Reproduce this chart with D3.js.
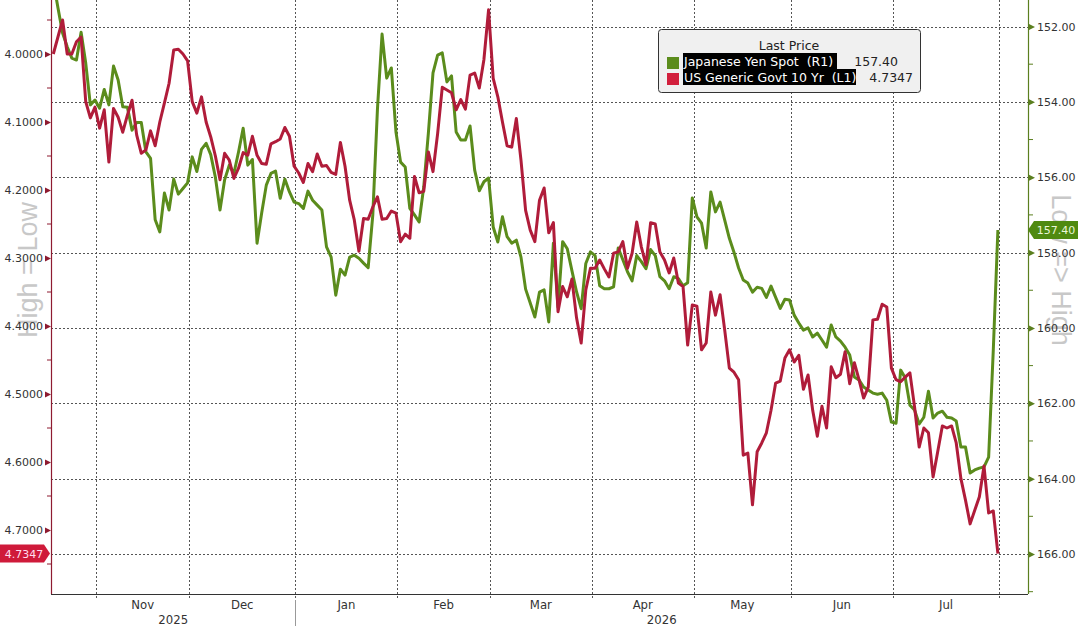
<!DOCTYPE html>
<html>
<head>
<meta charset="utf-8">
<script src="https://cdn.jsdelivr.net/npm/d3@7"></script>
<style>
  body { margin: 0; background: #fff; }
  svg { display: block; }
</style>
</head>
<body>
<div id="chart"></div>
<script>
//==============================
// DATA (one value per trading day, starting Mon 20 Oct 2025)
//==============================
const startDay = new Date(2025, 9, 20);
const endDay = new Date(2026, 7, 31);

// Japanese Yen Spot (R1), inverted right axis
const yenSpot = [
  150.8, 151.5, 152.17, 152.54, 152.84, 152.89, 152.15, 152.97, 154.08, 153.95,
  154.17, 153.67, 154.08, 153.05, 153.42, 154.13, 154.14, 154.75, 154.55, 154.55,
  155.33, 155.5, 157.13, 157.45, 156.42, 156.87, 156.05, 156.45, 156.3, 156.15,
  155.46, 155.85, 155.26, 155.1, 155.4, 156.0, 156.87, 156.07, 155.68, 155.9,
  155.33, 154.7, 155.68, 155.53, 157.75, 156.95, 156.21, 155.9, 155.84, 156.56,
  156.05, 156.39, 156.66, 156.7, 156.83, 156.37, 156.61, 156.74, 156.87, 157.85,
  158.12, 159.13, 158.44, 158.6, 158.12, 158.07, 158.15, 158.28, 158.4, 157.0,
  154.2, 152.2, 153.37, 153.1, 154.8, 155.6, 155.73, 156.83, 157.0, 157.19,
  156.26, 154.83, 153.23, 152.76, 152.7, 153.47, 153.31, 154.8, 155.01, 155.01,
  154.64, 155.81, 156.36, 156.12, 156.02, 157.32, 157.72, 157.05, 157.58, 157.75,
  157.67, 158.12, 158.97, 159.34, 159.71, 159.05, 158.99, 159.84, 157.75, 159.45,
  157.71, 157.9, 158.48, 159.04, 159.49, 158.29, 157.98, 158.08, 158.88, 158.96,
  158.96, 158.91, 157.88, 158.19, 158.51, 158.75, 158.08, 158.24, 158.43, 157.92,
  158.08, 158.64, 158.75, 158.96, 158.64, 158.69, 158.88, 158.8, 156.55, 157.05,
  157.22, 157.88, 156.39, 156.92, 156.66, 157.14, 157.62, 157.99, 158.41, 158.73,
  158.81, 159.05, 158.92, 158.95, 159.19, 158.89, 159.19, 159.48, 159.24, 159.26,
  159.66, 159.87, 160.06, 160.0, 160.24, 160.14, 160.32, 160.51, 159.92, 160.24,
  160.35, 160.51, 160.72, 161.3, 161.38, 161.57, 161.65, 161.73, 161.76, 161.73,
  161.92, 162.5, 162.53, 161.12, 161.33, 162.05, 162.18, 162.55, 162.37, 161.68,
  162.39, 162.26, 162.21, 162.37, 162.39, 162.47, 163.16, 163.16, 163.85, 163.77,
  163.72, 163.69, 163.43, 160.6, 157.40
];

// US Generic Govt 10 Yr (L1), inverted left axis
const usGovt10 = [
  4.0, 3.975, 3.95, 4.0, 4.0, 3.982, 3.975, 4.07, 4.094, 4.078,
  4.109, 4.082, 4.159, 4.08, 4.093, 4.115, 4.09, 4.068, 4.119, 4.146,
  4.141, 4.113, 4.135, 4.1, 4.072, 4.043, 3.994, 3.993, 4.0, 4.01,
  4.07, 4.087, 4.063, 4.1, 4.122, 4.15, 4.185, 4.146, 4.156, 4.183,
  4.168, 4.145, 4.149, 4.121, 4.149, 4.161, 4.162, 4.132, 4.129, 4.125,
  4.108, 4.121, 4.165, 4.175, 4.189, 4.161, 4.173, 4.147, 4.165, 4.164,
  4.174, 4.177, 4.13, 4.165, 4.215, 4.244, 4.29, 4.242, 4.243, 4.225,
  4.21, 4.243, 4.242, 4.231, 4.234, 4.276, 4.265, 4.271, 4.18, 4.204,
  4.202, 4.144, 4.173, 4.117, 4.049, 4.053, 4.057, 4.082, 4.067, 4.081,
  4.031, 4.028, 4.05, 4.008, 3.935, 4.036, 4.063, 4.1, 4.135, 4.137,
  4.095, 4.156, 4.23, 4.259, 4.276, 4.215, 4.197, 4.263, 4.248, 4.379,
  4.342, 4.357, 4.331, 4.388, 4.425, 4.347, 4.315, 4.315, 4.303, 4.316,
  4.328, 4.293, 4.291, 4.276, 4.315, 4.293, 4.247, 4.284, 4.31, 4.248,
  4.25, 4.291, 4.303, 4.322, 4.3, 4.337, 4.342, 4.428, 4.369, 4.371,
  4.435, 4.425, 4.35, 4.384, 4.354, 4.406, 4.462, 4.468, 4.479, 4.59,
  4.587, 4.663, 4.585, 4.572, 4.557, 4.524, 4.484, 4.481, 4.447, 4.435,
  4.453, 4.443, 4.493, 4.472, 4.524, 4.562, 4.518, 4.55, 4.46, 4.476,
  4.471, 4.438, 4.485, 4.454, 4.479, 4.506, 4.49, 4.391, 4.39, 4.368,
  4.372, 4.462, 4.479, 4.482, 4.475, 4.469, 4.519, 4.578, 4.55, 4.557,
  4.622, 4.585, 4.547, 4.55, 4.547, 4.572, 4.624, 4.656, 4.691, 4.671,
  4.651, 4.606, 4.675, 4.672, 4.7347
];

const leftTicks = [4.0, 4.1, 4.2, 4.3, 4.4, 4.5, 4.6, 4.7];
const leftMinor = [3.95, 4.05, 4.15, 4.25, 4.35, 4.45, 4.55, 4.65, 4.75];
const rightTicks = [152, 154, 156, 158, 160, 162, 164, 166];
const rightMinor = [153, 155, 157, 159, 161, 163, 165, 167];
const monthLabels = ["Nov", "Dec", "Jan", "Feb", "Mar", "Apr", "May", "Jun", "Jul"];
const yearLabels = ["2025", "2026"];
const legendNames = ["Japanese Yen Spot  (R1)", "US Generic Govt 10 Yr  (L1)"];
const legendValues = ["157.40", "4.7347"];

//==============================
// CHART CONFIG
//==============================
const width = 1078, height = 626;
const plot = { left: 51, right: 1028, top: 0, bottom: 594 };
const yenColor = "#5b8c1c", usColor = "#b01c3a";
const tickFont = "'DejaVu Sans', Verdana, sans-serif";
const narrowFont = "'Liberation Sans Narrow', 'DejaVu Sans Condensed', sans-serif";

// trading days (weekdays) and the index of each month's first day
const tradingDays = d3.timeDay.range(startDay, d3.timeDay.offset(endDay, 1))
  .filter(d => d.getDay() !== 0 && d.getDay() !== 6);
const monthStarts = [];
tradingDays.forEach((d, i) => {
  if (i > 0 && d.getMonth() !== tradingDays[i - 1].getMonth()) monthStarts.push(i);
});

const x = d3.scaleLinear().domain([-0.5, 210.5]).range([plot.left, plot.right]);
const yL = d3.scaleLinear().domain([4.0, 4.7]).range([54, 530]);
const yR = d3.scaleLinear().domain([152, 166]).range([26.5, 554]);
const gridX = i => x(i - 0.7);

const svg = d3.select("#chart").append("svg")
  .attr("width", width)
  .attr("height", height);

svg.append("clipPath").attr("id", "plotClip")
  .append("rect")
  .attr("x", plot.left).attr("y", plot.top)
  .attr("width", plot.right - plot.left)
  .attr("height", plot.bottom - plot.top);

//==============================
// GRID
//==============================
const grid = svg.append("g")
  .attr("stroke", "#555")
  .attr("stroke-width", 1)
  .attr("stroke-dasharray", "2,2");

grid.selectAll("line.h").data(rightTicks).join("line")
  .attr("class", "h")
  .attr("x1", plot.left).attr("x2", plot.right)
  .attr("y1", d => Math.round(yR(d)) + 0.5)
  .attr("y2", d => Math.round(yR(d)) + 0.5);

grid.selectAll("line.v").data(monthStarts).join("line")
  .attr("class", "v")
  .attr("x1", d => Math.round(gridX(d)) + 0.5)
  .attr("x2", d => Math.round(gridX(d)) + 0.5)
  .attr("y1", plot.top).attr("y2", plot.bottom + 6);

//==============================
// AXIS TITLES (behind everything else)
//==============================
svg.append("text")
  .attr("transform", "translate(37,270) rotate(-90)")
  .attr("text-anchor", "middle")
  .attr("fill", "#c8c8c8")
  .style("font-family", "'Liberation Sans', Arial, sans-serif")
  .style("font-size", "27px")
  .text("High = Low");

svg.append("text")
  .attr("transform", "translate(1052,270) rotate(90)")
  .attr("text-anchor", "middle")
  .attr("fill", "#c8c8c8")
  .style("font-family", "'Liberation Sans', Arial, sans-serif")
  .style("font-size", "27px")
  .text("Low => High");

//==============================
// LINES
//==============================
const lines = svg.append("g").attr("clip-path", "url(#plotClip)");

lines.append("path")
  .datum(yenSpot)
  .attr("fill", "none")
  .attr("stroke", yenColor)
  .attr("stroke-width", 3)
  .attr("stroke-linejoin", "round")
  .attr("d", d3.line().x((d, i) => x(i)).y(d => yR(d)));

lines.append("path")
  .datum(usGovt10)
  .attr("fill", "none")
  .attr("stroke", usColor)
  .attr("stroke-width", 3)
  .attr("stroke-linejoin", "round")
  .attr("d", d3.line().x((d, i) => x(i)).y(d => yL(d)));

//==============================
// AXES
//==============================
// left axis (yield)
const leftAxis = svg.append("g")
  .attr("transform", `translate(${plot.left},0)`)
  .call(d3.axisLeft(yL).tickValues(leftTicks).tickFormat(d3.format(".4f"))
    .tickSize(0).tickPadding(8));
leftAxis.select(".domain").remove();
leftAxis.selectAll("text")
  .attr("fill", "#333")
  .style("font-family", tickFont)
  .style("font-size", "11px");
leftAxis.selectAll(".tick").append("path")
  .attr("d", "M0,0 L-6,-3 L-6,3 Z")
  .attr("fill", "#8e1b30");

svg.append("g").selectAll("line").data(leftMinor).join("line")
  .attr("x1", plot.left - 4).attr("x2", plot.left)
  .attr("y1", d => yL(d)).attr("y2", d => yL(d))
  .attr("stroke", "#8e1b30");

svg.append("line")
  .attr("x1", plot.left + 0.5).attr("x2", plot.left + 0.5)
  .attr("y1", plot.top).attr("y2", plot.bottom)
  .attr("stroke", "#8e1b30").attr("stroke-width", 1.2);

// right axis (yen)
const rightAxis = svg.append("g")
  .attr("transform", `translate(${plot.right},0)`)
  .call(d3.axisRight(yR).tickValues(rightTicks).tickFormat(d3.format(".2f"))
    .tickSize(0).tickPadding(9));
rightAxis.select(".domain").remove();
rightAxis.selectAll("text")
  .attr("fill", "#333")
  .style("font-family", tickFont)
  .style("font-size", "11px");
rightAxis.selectAll(".tick").append("path")
  .attr("d", "M7,0 L1,-3 L1,3 Z")
  .attr("fill", "#5b7f1f");

svg.append("g").selectAll("line").data(rightMinor).join("line")
  .attr("x1", plot.right).attr("x2", plot.right + 5)
  .attr("y1", d => yR(d)).attr("y2", d => yR(d))
  .attr("stroke", "#5b7f1f");

svg.append("line")
  .attr("x1", plot.right + 0.5).attr("x2", plot.right + 0.5)
  .attr("y1", plot.top).attr("y2", plot.bottom)
  .attr("stroke", "#5b7f1f").attr("stroke-width", 1.2);

// bottom axis
svg.append("line")
  .attr("x1", plot.left).attr("x2", plot.right)
  .attr("y1", plot.bottom + 0.5).attr("y2", plot.bottom + 0.5)
  .attr("stroke", "#333");

// month labels sit in the middle of each month
const bottom = svg.append("g")
  .attr("fill", "#333")
  .style("font-family", narrowFont)
  .style("font-size", "13px")
  .attr("text-anchor", "middle");

monthLabels.forEach((m, i) => {
  const a = gridX(monthStarts[i]), b = gridX(monthStarts[i + 1]);
  bottom.append("text")
    .attr("x", (a + b) / 2)
    .attr("y", 609)
    .text(m);
});

// year labels and separator at the first January
const janX = gridX(monthStarts[2]);
bottom.append("text").attr("x", (plot.left + janX) / 2).attr("y", 624).text(yearLabels[0]);
bottom.append("text").attr("x", (janX + plot.right) / 2).attr("y", 624).text(yearLabels[1]);
svg.append("line")
  .attr("x1", Math.round(janX) + 0.5).attr("x2", Math.round(janX) + 0.5)
  .attr("y1", 600).attr("y2", height)
  .attr("stroke", "#999");

//==============================
// LAST VALUE TAGS
//==============================
const lastUs = usGovt10[usGovt10.length - 1];
const lastYen = yenSpot[yenSpot.length - 1];

const usTagY = yL(lastUs);
svg.append("path")
  .attr("d", `M0,${usTagY - 9} L44,${usTagY - 9} L50,${usTagY} L44,${usTagY + 9} L0,${usTagY + 9} Z`)
  .attr("fill", "#cf1a3a");
svg.append("text")
  .attr("x", 24).attr("y", usTagY + 4)
  .attr("text-anchor", "middle")
  .attr("fill", "#fde")
  .style("font-family", tickFont)
  .style("font-size", "11px")
  .text(d3.format(".4f")(lastUs));

const yenTagY = yR(lastYen);
svg.append("path")
  .attr("d", `M${plot.right},${yenTagY} L${plot.right + 6},${yenTagY - 9} L${width},${yenTagY - 9} L${width},${yenTagY + 9} L${plot.right + 6},${yenTagY + 9} Z`)
  .attr("fill", "#4f8a10");
svg.append("text")
  .attr("x", 1056).attr("y", yenTagY + 4)
  .attr("text-anchor", "middle")
  .attr("fill", "#eaf6d6")
  .style("font-family", tickFont)
  .style("font-size", "11px")
  .text(d3.format(".2f")(lastYen));

//==============================
// LEGEND
//==============================
const legend = svg.append("g").attr("transform", "translate(658,29)");
legend.append("rect")
  .attr("x", 0.5).attr("y", 0.5)
  .attr("width", 262).attr("height", 63)
  .attr("rx", 3)
  .attr("fill", "#f0f0f0")
  .attr("stroke", "#333");
legend.append("text")
  .attr("x", 131).attr("y", 21)
  .attr("text-anchor", "middle")
  .attr("fill", "#222")
  .style("font-family", tickFont)
  .style("font-size", "12.5px")
  .text("Last Price");

const legendColors = [yenColor, "#d21f3c"];
const highlightW = [154, 173];
legendNames.forEach((name, i) => {
  const row = legend.append("g").attr("transform", `translate(0,${24 + i * 16})`);
  row.append("rect")
    .attr("x", 9).attr("y", 4)
    .attr("width", 12).attr("height", 12)
    .attr("fill", legendColors[i]);
  row.append("rect")
    .attr("x", 25).attr("y", 0)
    .attr("width", highlightW[i]).attr("height", 16)
    .attr("fill", "#000");
  row.append("text")
    .attr("x", 26).attr("y", 13)
    .attr("fill", "#fff")
    .style("font-family", tickFont)
    .style("font-size", "12.5px")
    .style("white-space", "pre")
    .attr("xml:space", "preserve")
    .text(name);
  row.append("text")
    .attr("x", i === 0 ? 240 : 255).attr("y", 13)
    .attr("text-anchor", "end")
    .attr("fill", "#222")
    .style("font-family", tickFont)
    .style("font-size", "12.5px")
    .text(legendValues[i]);
});
</script>
</body>
</html>
